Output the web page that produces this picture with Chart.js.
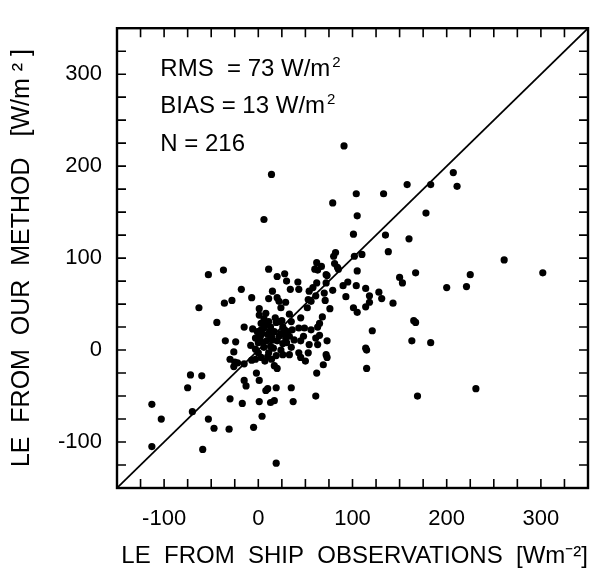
<!DOCTYPE html>
<html>
<head>
<meta charset="utf-8">
<script src="https://cdn.jsdelivr.net/npm/chart.js@4.4.0/dist/chart.umd.min.js"></script>
<style>
    html, body { margin: 0; padding: 0; background: #fff; }
    #wrap { width: 604px; height: 573px; }
</style>
</head>
<body>
<div id="wrap"><canvas id="leScatter"></canvas></div>
<script>
// LE from ship observations (x) vs LE from our method (y), W/m2
const shipLE = [
    14, 91, 104, 79, 105, 6, 101, 82, 80, 102, 133, 158, 183, 207, 211, 178, 135, 160, 138, 110, 261, 302, 225, 167, 150, 153, 200, 221,
    -53, -37, 11, 28, 20, 62, 60, 67, 85, 81, 73, 105, 30, 42, 62, 72, 95, 90, 104, -18, 15, 34, 43, 54, 58, 61, 70, 79,
    -36, -28, -7, 11, 20, 22, 29, 24, 53, 56, 71, 93, -63, 1, 33, 52, 76, 101, 105, 114, 128, 118, 131, 118, 114, 143, 84, 72, 63,
    -44, 45, 22, -15, -6, 35, 28, 36, 49, 56, 63, 43, 48, 61, 73, 63, 54, 45, 38, 35, -35, -24, -3, -1, 4, 6, 3, 11, 6, 1,
    13, 17, 26, 10, 29, 26, 22, 15, 5, -3, 6, 13, 165, 167, 121, 163, 183, 114, 115, 65, 65, 68, 8, 12, 18, 2, 9, 16, 24, 30,
    -8, 0, 7, 14, 27, 3, 20, 25, 10, 31, 8, 14, 19, 0, 24, 33,
    33, 43, 45, 53, 50, 73, 69, 62, 61, 37, 35, 19, 8, 10, 17, 13, 1, 4, -5, -17, -30, -31, -47, -53, -59, -70, -75, -72, -60,
    -113, -103, -113, 19, -2, 1, -15, -13, -30, -26, -22, -26, -7, -3, 3, 11, 19, 26, 17, 20, -25, -15, 72, 115, 231, 169
];
const methodLE = [
    191, 222, 170, 160, 146, 142, 126, 106, 102, 102, 170, 180, 180, 193, 178, 149, 125, 121, 107, 104, 98, 84, 82, 84, 79, 73, 68, 69,
    82, 87, 88, 83, 80, 95, 88, 91, 88, 94, 81, 86, 75, 74, 73, 73, 74, 70, 70, 66, 64, 66, 66, 64, 68, 59, 62, 65,
    51, 54, 57, 56, 57, 53, 52, 46, 55, 53, 54, 58, 46, 45, 39, 46, 45, 46, 41, 67, 63, 59, 56, 52, 47, 51, 90, 82, 87,
    30, 35, 31, 25, 23, 31, 22, 22, 24, 22, 25, 24, 15, 13, 10, 6, 6, 10, 11, 3, 10, 9, 13, 20, 18, 24, 29, 31, 34, 38,
    25, 20, 25, 17, 13, 7, 15, 11, 8, 1, 3, 4, 32, 30, 21, 10, 8, 2, 0, 16, 29, 36, 28, 20, 35, 14, 10, 2, 0, 8,
    5, -3, -12, -10, 18, 22, 10, 32, -7, 20, 40, 15, 30, 8, 18, 15,
    -5, -3, -8, -3, -12, -8, -16, -25, -50, -56, -41, -41, -44, -42, -55, -57, -56, -72, -84, -58, -53, -86, -85, -75, -108, -67, -41, -27, -28,
    -59, -75, -105, -123, -25, -33, -33, -39, -10, -18, -14, -2, -11, -10, -8, -3, -6, -5, -17, -20, -13, -15, -5, -20, -42, -50
];
const axisMin = -150;
const axisMax = 350;
const labelTicks = [-100, 0, 100, 200, 300];
const minorStep = 25;
const oneToOne = [axisMin, axisMax];
const statLines = [
    { text: 'RMS  = 73 W/m', sup: '2' },
    { text: 'BIAS = 13 W/m', sup: '2' },
    { text: 'N = 216', sup: '' }
];

const fontFamily = '"Liberation Sans", Arial, sans-serif';
const points = shipLE.map((v, i) => ({ x: v, y: methodLE[i] }));

const framePlugin = {
    id: 'frame',
    afterDatasetsDraw(chart) {
        const { ctx, chartArea: a, scales: { x, y } } = chart;
        const tickLen = 9;
        ctx.save();
        ctx.strokeStyle = '#000';
        ctx.lineWidth = 2.4;
        ctx.strokeRect(a.left, a.top, a.right - a.left, a.bottom - a.top);
        ctx.lineWidth = 1.6;
        ctx.beginPath();
        for (let v = axisMin + minorStep; v < axisMax; v += minorStep) {
            const px = x.getPixelForValue(v);
            ctx.moveTo(px, a.bottom); ctx.lineTo(px, a.bottom - tickLen);
            ctx.moveTo(px, a.top); ctx.lineTo(px, a.top + tickLen);
            const py = y.getPixelForValue(v);
            ctx.moveTo(a.left, py); ctx.lineTo(a.left + tickLen, py);
            ctx.moveTo(a.right, py); ctx.lineTo(a.right - tickLen, py);
        }
        ctx.stroke();

        // statistics block, upper left
        const textX = x.getPixelForValue(-104);
        const baselines = [298, 258, 216];
        ctx.fillStyle = '#000';
        ctx.textBaseline = 'alphabetic';
        ctx.textAlign = 'left';
        statLines.forEach((line, i) => {
            const by = y.getPixelForValue(baselines[i]);
            ctx.font = '24px ' + fontFamily;
            ctx.fillText(line.text, textX, by);
            if (line.sup) {
                const w = ctx.measureText(line.text).width;
                ctx.font = '15px ' + fontFamily;
                ctx.fillText(line.sup, textX + w + 2, by - 9);
            }
        });
        ctx.restore();
    }
};

const ctx = document.getElementById('leScatter').getContext('2d');
new Chart(ctx, {
    type: 'scatter',
    data: {
        datasets: [
            {
                data: points,
                pointRadius: 3.6,
                pointHoverRadius: 3.6,
                pointBackgroundColor: '#000',
                pointBorderWidth: 0
            },
            {
                type: 'line',
                data: oneToOne.map(v => ({ x: v, y: v })),
                borderColor: '#000',
                borderWidth: 1.7,
                pointRadius: 0,
                fill: false
            }
        ]
    },
    options: {
        responsive: true,
        maintainAspectRatio: false,
        animation: false,
        layout: { padding: { top: 13, right: 16, left: 0, bottom: 0 } },
        plugins: {
            legend: { display: false },
            tooltip: { enabled: false }
        },
        scales: {
            x: {
                type: 'linear',
                min: axisMin,
                max: axisMax,
                grid: { display: false, drawTicks: false },
                border: { display: false },
                afterBuildTicks: s => { s.ticks = labelTicks.map(v => ({ value: v })); },
                afterFit: s => { s.height = 85; },
                ticks: {
                    color: '#000',
                    padding: 18,
                    maxRotation: 0,
                    font: { size: 22, family: fontFamily }
                },
                title: {
                    display: true,
                    text: 'LE  FROM  SHIP  OBSERVATIONS  [Wm⁻²]',
                    align: 'end',
                    color: '#000',
                    font: { size: 24, family: fontFamily },
                    padding: { top: 0, bottom: 2 }
                }
            },
            y: {
                type: 'linear',
                min: axisMin,
                max: axisMax,
                grid: { display: false, drawTicks: false },
                border: { display: false },
                afterBuildTicks: s => { s.ticks = labelTicks.map(v => ({ value: v })); },
                afterFit: s => { s.width = 117; },
                ticks: {
                    color: '#000',
                    padding: 15,
                    font: { size: 22, family: fontFamily }
                },
                title: {
                    display: true,
                    text: 'LE  FROM  OUR  METHOD   [W/m ² ]',
                    color: '#000',
                    font: { size: 25, family: fontFamily },
                    padding: { top: 7, bottom: 0 }
                }
            }
        }
    },
    plugins: [framePlugin]
});
</script>
</body>
</html>
